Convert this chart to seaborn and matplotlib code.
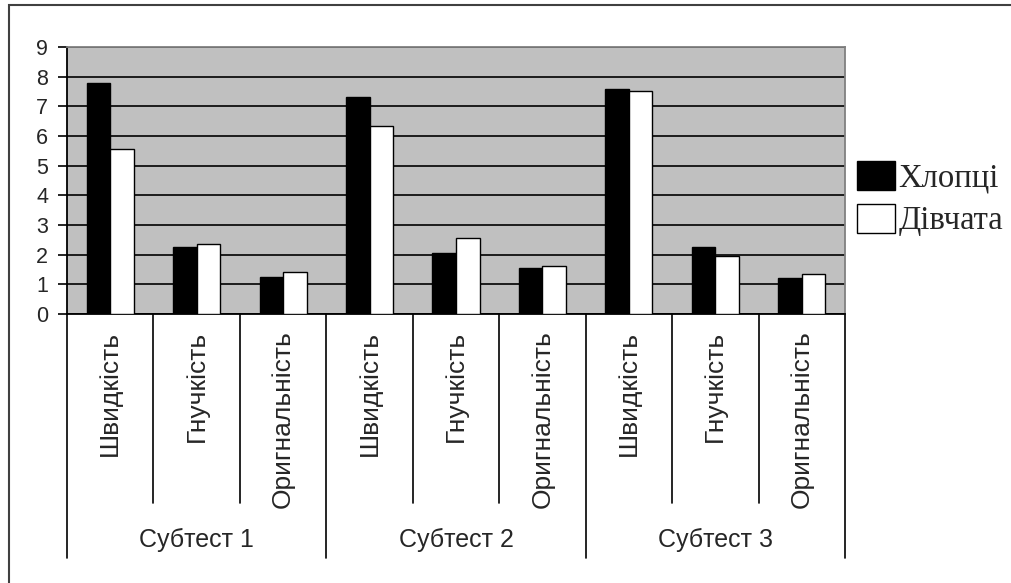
import pandas as pd
import seaborn as sns
import matplotlib.pyplot as plt
from matplotlib.patches import Patch, Rectangle

groups = ["Субтест 1", "Субтест 2", "Субтест 3"]
measures = ["Швидкість", "Гнучкість", "Оригнальність"]
series = ["Хлопці", "Дівчата"]
boys = [7.8, 2.25, 1.24, 7.32, 2.05, 1.56, 7.59, 2.25, 1.23]
girls = [5.55, 2.37, 1.41, 6.35, 2.57, 1.63, 7.51, 1.94, 1.35]
yticks = list(range(0, 10))

keys = [g + "|" + m for g in groups for m in measures]
data = pd.DataFrame({
    "key": keys * 2,
    "series": [series[0]] * len(keys) + [series[1]] * len(keys),
    "value": boys + girls,
})

sns.set_style("white")
plt.rcParams["font.family"] = ["Liberation Sans", "DejaVu Sans"]

fig = plt.figure(figsize=(10.11, 5.83), dpi=100)
ax = fig.add_axes([67 / 1011, 1 - 314 / 583, (845 - 67) / 1011, (314 - 47) / 583])
ax.set_facecolor("#c0c0c0")

sns.barplot(data=data, x="key", y="value", hue="series", order=keys, hue_order=series,
            palette={series[0]: "black", series[1]: "white"}, edgecolor="black",
            linewidth=1.0, width=0.545, saturation=1, ax=ax, zorder=3)
ax.get_legend().remove()

ax.set_ylim(0, 9)
ax.set_xlim(-0.5, len(keys) - 0.5)
ax.set_yticks(yticks)
ax.set_yticklabels([str(t) for t in yticks], fontsize=15.5)
ax.yaxis.grid(True, color="black", linewidth=1.2)
ax.set_axisbelow(True)
ax.tick_params(axis="y", direction="out", length=6.5, width=1.2, color="black", pad=7, left=True)
ax.set_xticks(range(len(keys)))
ax.set_xticklabels([k.split("|")[1] for k in keys], rotation=90, fontsize=19, va="top")
ax.tick_params(axis="x", length=0, pad=12)
ax.set_xlabel("")
ax.set_ylabel("")

for side in ["left", "bottom"]:
    ax.spines[side].set_color("black")
    ax.spines[side].set_linewidth(1.3)
for side in ["top", "right"]:
    ax.spines[side].set_color("#808080")
    ax.spines[side].set_linewidth(1.3)

# separators under the category axis
xt = ax.get_xaxis_transform()
n = len(measures)
for i in range(len(keys) + 1):
    low = -0.914 if i % n == 0 else -0.708
    ax.plot([i - 0.5, i - 0.5], [0, low], color="black", linewidth=1.2,
            transform=xt, clip_on=False)
for j, g in enumerate(groups):
    ax.text(j * n + (n - 1) / 2, -0.846, g, transform=xt, ha="center", va="center",
            fontsize=18)

handles = [Patch(facecolor="black", edgecolor="black"),
           Patch(facecolor="white", edgecolor="black")]
fig.legend(handles, series, loc="upper left", bbox_to_anchor=(857 / 1011, 1 - 161 / 583),
           frameon=False, prop={"family": "Liberation Serif", "size": 23.5},
           handlelength=1.15, handleheight=1.0, handletextpad=0.12, labelspacing=0.3,
           borderpad=0, borderaxespad=0)

fig.add_artist(Rectangle((9 / 1011, -0.2), 1.2, 1.2 - 5 / 583, transform=fig.transFigure,
                         fill=False, edgecolor="#404040", linewidth=1.5))

fig.savefig("out.png", dpi=100)
